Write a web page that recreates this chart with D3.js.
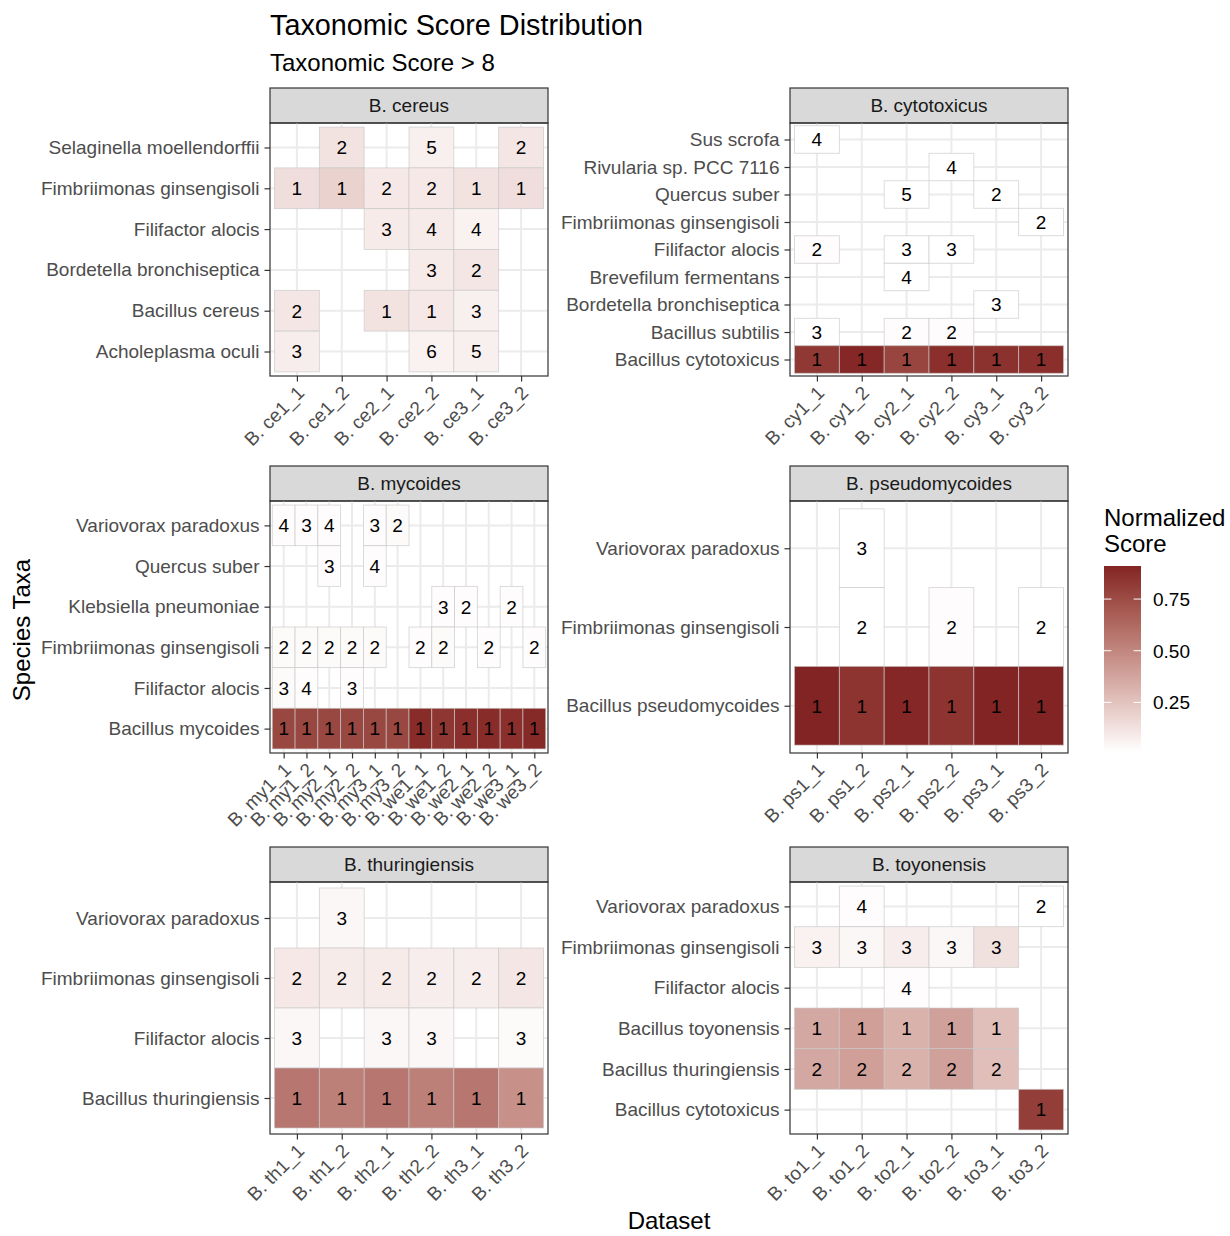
<!DOCTYPE html>
<html>
<head>
<meta charset="utf-8">
<script src="https://cdn.jsdelivr.net/npm/d3@7"></script>
<style>
  body { margin: 0; background: #fff; }
  text { font-family: "Liberation Sans", Arial, sans-serif; }
</style>
</head>
<body>
<svg id="chart" width="1230" height="1236"></svg>
<script>
// ---- data (taxa listed top to bottom, null = no tile) ----
const cereusDatasets = ["B. ce1_1", "B. ce1_2", "B. ce2_1", "B. ce2_2", "B. ce3_1", "B. ce3_2"];
const cereusTaxa = ["Selaginella moellendorffii", "Fimbriimonas ginsengisoli", "Filifactor alocis",
    "Bordetella bronchiseptica", "Bacillus cereus", "Acholeplasma oculi"];
const cereusRanks = [
    [null, 2, null, 5, null, 2],
    [1, 1, 2, 2, 1, 1],
    [null, null, 3, 4, 4, null],
    [null, null, null, 3, 2, null],
    [2, null, 1, 1, 3, null],
    [3, null, null, 6, 5, null]
];
const cereusScores = [
    [null, 0.12, null, 0.07, null, 0.11],
    [0.14, 0.19, 0.10, 0.10, 0.12, 0.14],
    [null, null, 0.09, 0.09, 0.06, null],
    [null, null, null, 0.09, 0.11, null],
    [0.11, null, 0.12, 0.10, 0.07, null],
    [0.08, null, null, 0.06, 0.07, null]
];

const cytoDatasets = ["B. cy1_1", "B. cy1_2", "B. cy2_1", "B. cy2_2", "B. cy3_1", "B. cy3_2"];
const cytoTaxa = ["Sus scrofa", "Rivularia sp. PCC 7116", "Quercus suber", "Fimbriimonas ginsengisoli",
    "Filifactor alocis", "Brevefilum fermentans", "Bordetella bronchiseptica", "Bacillus subtilis",
    "Bacillus cytotoxicus"];
const cytoRanks = [
    [4, null, null, null, null, null],
    [null, null, null, 4, null, null],
    [null, null, 5, null, 2, null],
    [null, null, null, null, null, 2],
    [2, null, 3, 3, null, null],
    [null, null, 4, null, null, null],
    [null, null, null, null, 3, null],
    [3, null, 2, 2, null, null],
    [1, 1, 1, 1, 1, 1]
];
const cytoScores = [
    [0.01, null, null, null, null, null],
    [null, null, null, 0.01, null, null],
    [null, null, 0.01, null, 0.01, null],
    [null, null, null, null, null, 0.01],
    [0.02, null, 0.01, 0.01, null, null],
    [null, null, 0.01, null, null, null],
    [null, null, null, null, 0.01, null],
    [0.01, null, 0.02, 0.02, null, null],
    [0.83, 0.90, 0.78, 0.87, 0.86, 0.87]
];

const mycoDatasets = ["B. my1_1", "B. my1_2", "B. my2_1", "B. my2_2", "B. my3_1", "B. my3_2",
    "B. we1_1", "B. we1_2", "B. we2_1", "B. we2_2", "B. we3_1", "B. we3_2"];
const mycoTaxa = ["Variovorax paradoxus", "Quercus suber", "Klebsiella pneumoniae",
    "Fimbriimonas ginsengisoli", "Filifactor alocis", "Bacillus mycoides"];
const mycoRanks = [
    [4, 3, 4, null, 3, 2, null, null, null, null, null, null],
    [null, null, 3, null, 4, null, null, null, null, null, null, null],
    [null, null, null, null, null, null, null, 3, 2, null, 2, null],
    [2, 2, 2, 2, 2, null, 2, 2, null, 2, null, 2],
    [3, 4, null, 3, null, null, null, null, null, null, null, null],
    [1, 1, 1, 1, 1, 1, 1, 1, 1, 1, 1, 1]
];
const mycoScores = [
    [0.02, 0.02, 0.02, null, 0.02, 0.03, null, null, null, null, null, null],
    [null, null, 0.02, null, 0.02, null, null, null, null, null, null, null],
    [null, null, null, null, null, null, null, 0.02, 0.02, null, 0.02, null],
    [0.03, 0.03, 0.03, 0.03, 0.03, null, 0.02, 0.03, null, 0.02, null, 0.02],
    [0.03, 0.02, null, 0.02, null, null, null, null, null, null, null, null],
    [0.77, 0.77, 0.77, 0.77, 0.77, 0.77, 0.88, 0.84, 0.87, 0.88, 0.87, 0.89]
];

const pseudoDatasets = ["B. ps1_1", "B. ps1_2", "B. ps2_1", "B. ps2_2", "B. ps3_1", "B. ps3_2"];
const pseudoTaxa = ["Variovorax paradoxus", "Fimbriimonas ginsengisoli", "Bacillus pseudomycoides"];
const pseudoRanks = [
    [null, 3, null, null, null, null],
    [null, 2, null, 2, null, 2],
    [1, 1, 1, 1, 1, 1]
];
const pseudoScores = [
    [null, 0.01, null, null, null, null],
    [null, 0.01, null, 0.02, null, 0.01],
    [0.91, 0.85, 0.90, 0.85, 0.91, 0.91]
];

const thurDatasets = ["B. th1_1", "B. th1_2", "B. th2_1", "B. th2_2", "B. th3_1", "B. th3_2"];
const thurTaxa = ["Variovorax paradoxus", "Fimbriimonas ginsengisoli", "Filifactor alocis",
    "Bacillus thuringiensis"];
const thurRanks = [
    [null, 3, null, null, null, null],
    [2, 2, 2, 2, 2, 2],
    [3, null, 3, 3, null, 3],
    [1, 1, 1, 1, 1, 1]
];
const thurScores = [
    [null, 0.04, null, null, null, null],
    [0.10, 0.09, 0.09, 0.08, 0.08, 0.11],
    [0.04, null, 0.04, 0.04, null, 0.03],
    [0.57, 0.53, 0.57, 0.53, 0.57, 0.46]
];

const toyoDatasets = ["B. to1_1", "B. to1_2", "B. to2_1", "B. to2_2", "B. to3_1", "B. to3_2"];
const toyoTaxa = ["Variovorax paradoxus", "Fimbriimonas ginsengisoli", "Filifactor alocis",
    "Bacillus toyonensis", "Bacillus thuringiensis", "Bacillus cytotoxicus"];
const toyoRanks = [
    [null, 4, null, null, null, 2],
    [3, 3, 3, 3, 3, null],
    [null, null, 4, null, null, null],
    [1, 1, 1, 1, 1, null],
    [2, 2, 2, 2, 2, null],
    [null, null, null, null, null, 1]
];
const toyoScores = [
    [null, 0.02, null, null, null, 0.01],
    [0.06, 0.04, 0.08, 0.04, 0.13, null],
    [null, null, 0.02, null, null, null],
    [0.36, 0.40, 0.32, 0.39, 0.27, null],
    [0.36, 0.40, 0.32, 0.39, 0.27, null],
    [null, null, null, null, null, 0.81]
];

const facetNames = ["B. cereus", "B. cytotoxicus", "B. mycoides", "B. pseudomycoides",
    "B. thuringiensis", "B. toyonensis"];
const legendTicks = [0.25, 0.5, 0.75];

// ---- layout ----
const facets = [
    { datasets: cereusDatasets, taxa: cereusTaxa, ranks: cereusRanks, scores: cereusScores },
    { datasets: cytoDatasets, taxa: cytoTaxa, ranks: cytoRanks, scores: cytoScores },
    { datasets: mycoDatasets, taxa: mycoTaxa, ranks: mycoRanks, scores: mycoScores },
    { datasets: pseudoDatasets, taxa: pseudoTaxa, ranks: pseudoRanks, scores: pseudoScores },
    { datasets: thurDatasets, taxa: thurTaxa, ranks: thurRanks, scores: thurScores },
    { datasets: toyoDatasets, taxa: toyoTaxa, ranks: toyoRanks, scores: toyoScores }
];
facets.forEach((f, i) => { f.name = facetNames[i]; });

const cols = [[270, 548], [790, 1068]];
const rows = [[123, 376], [501, 753], [882, 1134]];
const stripH = 35;
const axisFont = 19;
const titleFont = 24;

const svg = d3.select("#chart");

const allScores = facets.flatMap(f => f.scores.flat().filter(v => v != null));
const extent = d3.extent(allScores);
const color = d3.scaleLinear().domain(extent).range(["#ffffff", "#832424"])
    .interpolate(d3.interpolateLab);

facets.forEach((f, i) => {
    const [x0, x1] = cols[i % 2];
    const [y0, y1] = rows[Math.floor(i / 2)];
    const x = d3.scalePoint().domain(f.datasets).range([x0, x1]).padding(0.6);
    const y = d3.scalePoint().domain(f.taxa).range([y0, y1]).padding(0.6);
    const g = svg.append("g");

    // strip
    g.append("rect").attr("x", x0).attr("y", y0 - stripH).attr("width", x1 - x0).attr("height", stripH)
        .attr("fill", "#D9D9D9").attr("stroke", "#333").attr("stroke-width", 1.2);
    g.append("text").attr("x", (x0 + x1) / 2).attr("y", y0 - stripH / 2).attr("dy", "0.36em")
        .attr("text-anchor", "middle").attr("font-size", axisFont).attr("fill", "#1A1A1A").text(f.name);

    // grid
    g.selectAll(".vg").data(f.datasets).join("line")
        .attr("x1", d => x(d)).attr("x2", d => x(d)).attr("y1", y0).attr("y2", y1)
        .attr("stroke", "#EBEBEB").attr("stroke-width", 2);
    g.selectAll(".hg").data(f.taxa).join("line")
        .attr("y1", d => y(d)).attr("y2", d => y(d)).attr("x1", x0).attr("x2", x1)
        .attr("stroke", "#EBEBEB").attr("stroke-width", 2);

    // tiles
    const tiles = [];
    f.taxa.forEach((t, r) => f.datasets.forEach((ds, c) => {
        if (f.ranks[r][c] != null) tiles.push({ taxon: t, dataset: ds, rank: f.ranks[r][c], score: f.scores[r][c] });
    }));
    const w = x.step(), h = y.step();
    g.selectAll(".tile").data(tiles).join("rect")
        .attr("x", d => x(d.dataset) - w / 2).attr("y", d => y(d.taxon) - h / 2)
        .attr("width", w).attr("height", h)
        .attr("fill", d => color(d.score))
        .attr("stroke", "#c8c8c8").attr("stroke-opacity", 0.8).attr("stroke-width", 0.8);
    g.selectAll(".lbl").data(tiles).join("text")
        .attr("x", d => x(d.dataset)).attr("y", d => y(d.taxon)).attr("dy", "0.36em")
        .attr("text-anchor", "middle").attr("font-size", axisFont).attr("fill", "#000")
        .text(d => d.rank);

    // border
    g.append("rect").attr("x", x0).attr("y", y0).attr("width", x1 - x0).attr("height", y1 - y0)
        .attr("fill", "none").attr("stroke", "#333").attr("stroke-width", 1.2);

    // axes
    const ax = g.append("g").attr("transform", `translate(0,${y1})`)
        .call(d3.axisBottom(x).tickSize(5.5).tickSizeOuter(0));
    ax.select(".domain").remove();
    ax.selectAll("line").attr("stroke", "#333").attr("stroke-width", 1.2);
    ax.selectAll("text").attr("y", 0).attr("dy", 0).attr("x", 0)
        .attr("transform", "translate(8,18) rotate(-45)")
        .attr("text-anchor", "end").attr("font-size", axisFont).attr("fill", "#4D4D4D")
        .style("font-family", "Liberation Sans, Arial, sans-serif");

    const ay = g.append("g").attr("transform", `translate(${x0},0)`)
        .call(d3.axisLeft(y).tickSize(5.5).tickSizeOuter(0).tickPadding(5));
    ay.select(".domain").remove();
    ay.selectAll("line").attr("stroke", "#333").attr("stroke-width", 1.2);
    ay.selectAll("text").attr("font-size", axisFont).attr("fill", "#4D4D4D")
        .style("font-family", "Liberation Sans, Arial, sans-serif");
});

// titles
svg.append("text").attr("x", 270).attr("y", 35).attr("font-size", 28.8).attr("fill", "#000")
    .text("Taxonomic Score Distribution");
svg.append("text").attr("x", 270).attr("y", 71).attr("font-size", titleFont).attr("fill", "#000")
    .text("Taxonomic Score > 8");
svg.append("text").attr("x", 669).attr("y", 1229).attr("text-anchor", "middle")
    .attr("font-size", titleFont).attr("fill", "#000").text("Dataset");
svg.append("text").attr("transform", "translate(30,630) rotate(-90)").attr("text-anchor", "middle")
    .attr("font-size", titleFont).attr("fill", "#000").text("Species Taxa");

// legend
const lx = 1104, lw = 37, ly0 = 566, ly1 = 752;
svg.append("text").attr("x", lx).attr("y", 526).attr("font-size", titleFont).attr("fill", "#000").text("Normalized");
svg.append("text").attr("x", lx).attr("y", 552).attr("font-size", titleFont).attr("fill", "#000").text("Score");
const defs = svg.append("defs");
const grad = defs.append("linearGradient").attr("id", "cbar")
    .attr("x1", 0).attr("y1", 1).attr("x2", 0).attr("y2", 0);
d3.range(0, 1.0001, 0.05).forEach(t => {
    grad.append("stop").attr("offset", t).attr("stop-color", color(extent[0] + t * (extent[1] - extent[0])));
});
svg.append("rect").attr("x", lx).attr("y", ly0).attr("width", lw).attr("height", ly1 - ly0)
    .attr("fill", "url(#cbar)");
const ls = d3.scaleLinear().domain(extent).range([ly1, ly0]);
legendTicks.forEach(v => {
    svg.append("line").attr("x1", lx).attr("x2", lx + lw / 5).attr("y1", ls(v)).attr("y2", ls(v))
        .attr("stroke", "#fff").attr("stroke-width", 1);
    svg.append("line").attr("x1", lx + lw - lw / 5).attr("x2", lx + lw).attr("y1", ls(v)).attr("y2", ls(v))
        .attr("stroke", "#fff").attr("stroke-width", 1);
    svg.append("text").attr("x", lx + lw + 12).attr("y", ls(v)).attr("dy", "0.36em")
        .attr("font-size", axisFont).attr("fill", "#000").text(d3.format(".2f")(v));
});
</script>
</body>
</html>
